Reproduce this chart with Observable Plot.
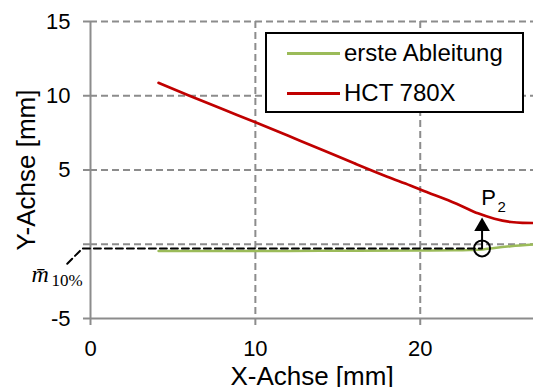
<!DOCTYPE html>
<html><head><meta charset="utf-8">
<script src="https://cdn.jsdelivr.net/npm/d3@7"></script>
<script src="https://cdn.jsdelivr.net/npm/@observablehq/plot@0.6"></script>
<style>
html,body{margin:0;padding:0;background:#fff;}
#wrap{position:relative;width:533px;height:387px;overflow:hidden;}
#legend{position:absolute;left:265px;top:32px;width:255px;height:77px;border:2px solid #000;background:#fff;font-family:"Liberation Sans",Arial,sans-serif;font-size:24px;}
#legend .sw{position:absolute;left:20px;width:53px;height:3px;}
#legend .tx{position:absolute;left:77px;line-height:24px;white-space:nowrap;color:#000;}
</style></head>
<body><div id="wrap"><div id="chart"></div><div id="legend"></div></div>
<script>
// ---- data ----
const seriesNames = ["erste Ableitung", "HCT 780X"];
const seriesColors = ["#9BBB59", "#C00000"];

const redX = [4.13, 6, 8, 10, 12, 14, 16, 18, 19.4, 20.5, 21.5, 22.5, 23.5, 24.5, 25.5, 26.2, 26.9];
const redY = [10.87, 10.0, 9.1, 8.22, 7.3, 6.38, 5.45, 4.55, 3.96, 3.47, 3.05, 2.58, 2.08, 1.72, 1.50, 1.44, 1.43];

const greenX = [4.13, 8, 12, 16, 20, 22, 23, 23.8, 24.5, 25.5, 26.9];
const greenY = [-0.45, -0.46, -0.45, -0.44, -0.42, -0.41, -0.39, -0.35, -0.25, -0.13, -0.01];

const xTicks = [0, 10, 20];
const yTicks = [15, 10, 5, 0, -5];
const yGrid = [15, 10, 5, 0];
const xGrid = [10, 20];

// annotation: P2 point and m̄10% level
const p2X = 23.75;
const mLevel = -0.28;
const arrowTipY = 1.2;
const leaderX = [-1.41, -0.49, p2X];
const leaderY = [-1.31, mLevel, mLevel];

const GRAY = "#8c8c8c";
const SANS = '"Liberation Sans", Arial, sans-serif';
const SERIF = '"Liberation Serif", "Times New Roman", serif';

const red = redX.map((x, i) => ({x, y: redY[i]}));
const green = greenX.map((x, i) => ({x, y: greenY[i]}));
const leader = leaderX.map((x, i) => ({x, y: leaderY[i]}));

const chart = Plot.plot({
  width: 533, height: 387,
  marginLeft: 90, marginRight: 0, marginTop: 21, marginBottom: 69,
  x: {domain: [0, 26.87]},
  y: {domain: [-5, 15]},
  style: {fontFamily: SANS, color: "#000", background: "#fff", overflow: "visible"},
  marks: [
    Plot.ruleY(yGrid, {stroke: GRAY, strokeWidth: 2, strokeDasharray: "7,4"}),
    Plot.ruleX(xGrid, {stroke: GRAY, strokeWidth: 2, strokeDasharray: "7,4"}),
    Plot.ruleX([0], {stroke: GRAY, strokeWidth: 2}),
    Plot.ruleY([-5], {stroke: GRAY, strokeWidth: 2}),
    Plot.axisY(yTicks, {tickSize: 7, tickPadding: 13, stroke: GRAY, strokeWidth: 2, fontSize: 22,
      tickFormat: d => d === 0 ? "" : String(d), label: null}),
    Plot.axisX(xTicks, {tickSize: 7, tickPadding: 15, stroke: GRAY, strokeWidth: 2, fontSize: 22,
      tickFormat: d => String(d), label: null}),
    Plot.line(green, {x: "x", y: "y", stroke: seriesColors[0], strokeWidth: 2.5, curve: "monotone-x"}),
    Plot.line(red, {x: "x", y: "y", stroke: seriesColors[1], strokeWidth: 2.7, curve: "monotone-x"}),
    Plot.line(leader, {x: "x", y: "y", stroke: "#000", strokeWidth: 2, strokeDasharray: "7,4"}),
    Plot.link([{x: p2X, y1: mLevel, y2: arrowTipY}], {x1: "x", x2: "x", y1: "y1", y2: "y2", stroke: "#000", strokeWidth: 2}),
    Plot.dot([{x: p2X, y: arrowTipY}], {x: "x", y: "y", symbol: "triangle", r: 5.8, fill: "#000", stroke: "none"}),
    Plot.dot([{x: p2X, y: mLevel}], {x: "x", y: "y", r: 8, stroke: "#000", strokeWidth: 2, fill: "none"}),
    Plot.text([{x: 23.7, y: 2.62, t: "P"}], {x: "x", y: "y", text: "t", fontSize: 22, textAnchor: "start", lineAnchor: "bottom", fill: "#000"}),
    Plot.text([{x: 24.68, y: 2.17, t: "2"}], {x: "x", y: "y", text: "t", fontSize: 15, textAnchor: "start", lineAnchor: "bottom", fill: "#000"}),
    Plot.text([{x: -3.06, y: -2.56, t: "m\u0304"}], {x: "x", y: "y", text: "t", fontSize: 24, fontFamily: SERIF, fontStyle: "italic", textAnchor: "middle", lineAnchor: "bottom", fill: "#000"}),
    Plot.text([{x: -2.37, y: -2.83, t: "10%"}], {x: "x", y: "y", text: "t", fontSize: 17, fontFamily: SERIF, textAnchor: "start", lineAnchor: "bottom", fill: "#000"}),
    Plot.text(["X-Achse [mm]"], {text: d => d, frameAnchor: "bottom", textAnchor: "middle", dy: 66, lineAnchor: "bottom", fontSize: 26, fill: "#000"}),
    Plot.text(["Y-Achse [mm]"], {text: d => d, frameAnchor: "left", textAnchor: "middle", dx: -56, rotate: -90, lineAnchor: "bottom", fontSize: 26, fill: "#000"})
  ]
});
document.getElementById("chart").appendChild(chart);

// legend
const legend = document.getElementById("legend");
const rowTops = [7, 47];
seriesNames.forEach((name, i) => {
  const sw = document.createElement("div");
  sw.className = "sw";
  sw.style.top = (rowTops[i] + 11) + "px";
  sw.style.background = seriesColors[i];
  legend.appendChild(sw);
  const tx = document.createElement("div");
  tx.className = "tx";
  tx.style.top = rowTops[i] + "px";
  tx.textContent = name;
  legend.appendChild(tx);
});
</script>
</body></html>
